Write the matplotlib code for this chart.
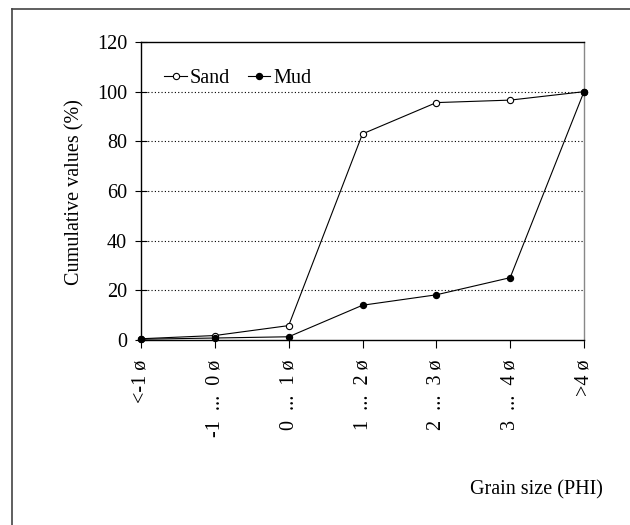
import matplotlib
matplotlib.use("Agg")
import matplotlib.pyplot as plt
from matplotlib.lines import Line2D

plt.rcParams['font.family'] = ['Liberation Serif', 'DejaVu Serif']

# categories on the grain size axis
categories = ['<-1 ø', '-1  ...  0 ø', '0  ...  1 ø', '1  ...  2 ø', '2  ...  3 ø', '3  ...  4 ø', '>4 ø']
sand = [0.5, 1.8, 5.8, 83.0, 95.6, 96.6, 100.0]
mud = [0.3, 0.8, 1.3, 14.0, 18.2, 25.1, 100.0]
y_ticks = [0, 20, 40, 60, 80, 100, 120]

FS = 14.5

fig = plt.figure(figsize=(6.3, 5.25), dpi=100)
ax = fig.add_axes([141 / 630, 1 - 340 / 525, (584 - 141) / 630, (340 - 42) / 525])

x = list(range(len(categories)))
ax.plot(x, sand, color='black', lw=0.8, marker='o', ms=4.5, mfc='white', mec='black',
        mew=0.8, label='Sand', zorder=3, clip_on=False)
ax.plot(x, mud, color='black', lw=0.8, marker='o', ms=4.3, mfc='black', mec='black',
        label='Mud', zorder=3, clip_on=False)

ax.set_xlim(0, len(categories) - 1)
ax.set_ylim(0, 120)
ax.set_xticks(x)
ax.set_xticklabels(categories, rotation=90, fontsize=FS)
ax.set_yticks(y_ticks)
ax.set_yticklabels([str(v) for v in y_ticks], fontsize=FS)
ax.tick_params(axis='x', direction='out', length=6, width=0.8, pad=8)
ax.tick_params(axis='y', direction='inout', length=8, width=0.8, pad=6)

# dotted grid, skipping the top edge
for v in y_ticks[1:-1]:
    ax.axhline(v, color='black', lw=0.8, ls=(0, (1, 2)), zorder=1)

for side in ['left', 'bottom', 'top']:
    ax.spines[side].set_linewidth(1.0)
    ax.spines[side].set_color('black')
ax.spines['right'].set_color('#888888')
ax.spines['right'].set_linewidth(1.0)

ax.legend(loc='upper left', bbox_to_anchor=(0.012, 0.97), ncol=2, frameon=False,
          fontsize=FS, handlelength=1.1, handletextpad=0.15, columnspacing=0.9)

fig.text(75 / 630, 1 - 192 / 525, 'Cumulative values (%)', rotation=90,
         ha='center', va='center', fontsize=FS)
fig.text(536 / 630, 1 - 490 / 525, 'Grain size (PHI)', ha='center', va='center', fontsize=FS)

# outer frame around the chart
fig.add_artist(Line2D([12 / 630, 12 / 630], [0, 1 - 9 / 525], color='#444444', lw=1.2,
                      transform=fig.transFigure))
fig.add_artist(Line2D([12 / 630, 1], [1 - 9 / 525, 1 - 9 / 525], color='#444444', lw=1.2,
                      transform=fig.transFigure))

fig.savefig('out.png', dpi=100)
